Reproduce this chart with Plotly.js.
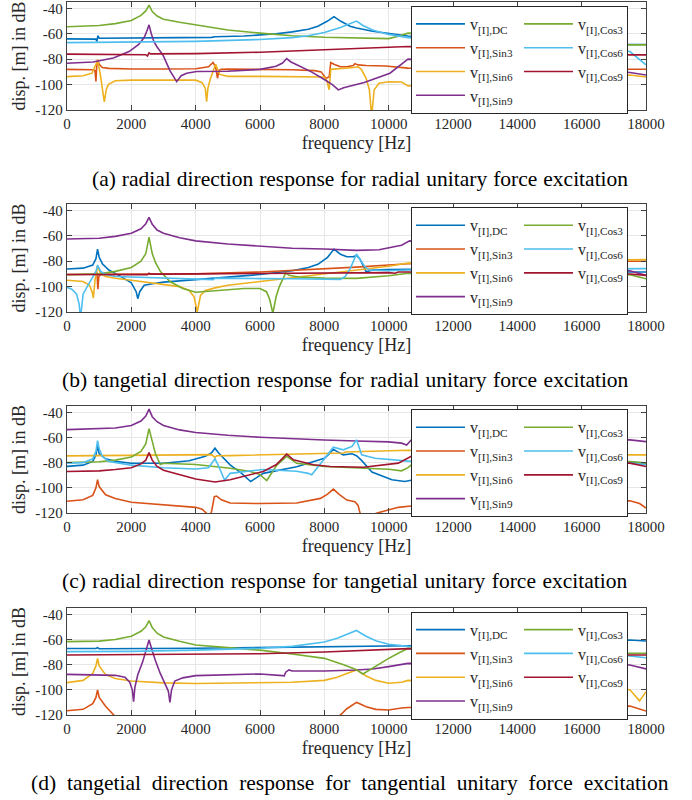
<!DOCTYPE html>
<html>
<head>
<meta charset="utf-8">
<script src="https://cdn.plot.ly/plotly-3.0.1.min.js"></script>
<style>
html,body{margin:0;padding:0;background:#fff}
#chart{width:692px;height:800px}
text[data-unformatted^="(a)"]{word-spacing:0.6px}
text[data-unformatted^="(b)"]{word-spacing:1.1px}
text[data-unformatted^="(c)"]{word-spacing:1.1px}
text[data-unformatted^="(d)"]{word-spacing:5.5px}
</style>
</head>
<body>
<div id="chart"></div>
<script>
// ---------- series meta ----------
const seriesKeys = ['DC', 'Sin3', 'Sin6', 'Sin9', 'Cos3', 'Cos6', 'Cos9'];
const seriesLabels = ['v<sub>[I],DC</sub>', 'v<sub>[I],Sin3</sub>', 'v<sub>[I],Sin6</sub>', 'v<sub>[I],Sin9</sub>',
                      'v<sub>[I],Cos3</sub>', 'v<sub>[I],Cos6</sub>', 'v<sub>[I],Cos9</sub>'];
const seriesColors = ['#0072BD', '#D95319', '#EDB120', '#7E2F8E', '#77AC30', '#4DBEEE', '#A2142F'];
const seriesGroup = [1, 1, 1, 1, 2, 2, 2];
const captions = [
  '(a) radial direction response for radial unitary force excitation',
  '(b) tangetial direction response for radial unitary force excitation',
  '(c) radial direction response for tangetial unitary force excitation',
  '(d) tangetial direction response for tangential unitary force excitation'
];
const xTickVals = [0, 2000, 4000, 6000, 8000, 10000, 12000, 14000, 16000, 18000];
const xTickText = ['0', '2000', '4000', '6000', '8000', '10000', '12000', '14000', '16000', '18000'];
const yTickVals = [-120, -100, -80, -60, -40];
const yTickText = ['-120', '-100', '-80', '-60', '-40'];

// ---------- (a) radial response, radial excitation ----------
const aDC_f = [0, 850, 900, 930, 960, 1000, 1500, 2500, 3500, 4500, 4600, 5500, 6000, 6500, 7000, 7500, 7800, 8100, 8300, 8500, 8800, 9000, 9500, 10000, 10600, 17500, 18000];
const aDC_v = [-64, -64, -64.2, -66, -61.5, -63.5, -63.5, -63.3, -63, -62.8, -62.3, -61.8, -61, -60, -58.5, -56.5, -54, -50, -46.5, -50, -54, -55.5, -58, -60, -61.8, -68.5, -68.5];
const aSin3_f = [0, 800, 870, 900, 920, 950, 1000, 1100, 1300, 2000, 3000, 4000, 4400, 4540, 4620, 4680, 4720, 4800, 5000, 6000, 7000, 7700, 7900, 8050, 8150, 8200, 8300, 8500, 8700, 8900, 8950, 9050, 9300, 9900, 10600, 17500, 18000];
const aSin3_v = [-88, -88.3, -89, -97.5, -87, -80.5, -84, -86.5, -87.2, -87.7, -87.7, -87.5, -86, -82.6, -86, -95, -89, -88, -87.8, -88, -88.3, -89, -90, -95, -94, -82.6, -84, -86, -86, -85, -83.5, -84.5, -85, -85.4, -87, -87.9, -87.9];
const aSin6_f = [0, 500, 780, 880, 950, 1030, 1110, 1160, 1220, 1290, 1500, 2000, 3000, 4000, 4200, 4300, 4340, 4380, 4450, 4550, 4620, 4750, 5000, 6000, 7000, 8000, 8080, 8150, 8200, 8300, 8600, 8900, 9050, 9150, 9300, 9400, 9470, 9550, 9700, 10000, 10400, 10600, 17500, 18000];
const aSin6_v = [-93.7, -93, -91, -85, -81, -91, -104.5, -113.5, -104, -99.8, -97, -96.5, -96.5, -96.5, -98.5, -103, -113.5, -103, -96, -88, -84, -92, -93.5, -93.5, -93.5, -94, -97, -104, -88, -87.8, -87.5, -86.5, -86, -88, -95, -104, -125, -104, -99, -97.7, -98, -101, -92.4, -94];
const aSin9_f = [0, 810, 1440, 1930, 2220, 2400, 2480, 2550, 2620, 2700, 2790, 2990, 3200, 3410, 3550, 3720, 4030, 5000, 6000, 6500, 6700, 6830, 6950, 7200, 7600, 8000, 8250, 8435, 8600, 9240, 10040, 10500, 10600, 17500, 18000];
const aSin9_v = [-83.2, -82.2, -79, -74, -68.6, -63, -58, -53, -60, -66, -70, -77, -89, -97.7, -93, -91, -89.7, -89.5, -88, -85.5, -83, -79.5, -82, -85, -90, -96, -100, -104.2, -102.5, -98.3, -91, -82, -80, -90.5, -92.4];
const aCos3_f = [0, 1000, 1500, 2000, 2300, 2450, 2550, 2650, 2800, 3000, 3500, 4000, 5000, 6000, 7000, 8000, 9000, 10000, 10300, 10600, 17500, 18000];
const aCos3_v = [-54.5, -53.5, -52, -49.5, -45.5, -42, -37.5, -42.5, -46, -48.5, -51, -53, -57, -59.5, -61.5, -62.7, -63.5, -63.8, -62, -59.5, -68.7, -68.7];
const aCos6_f = [0, 2000, 4000, 6000, 7000, 7500, 8000, 8500, 8800, 9000, 9200, 9500, 10000, 10600, 17500, 18000];
const aCos6_v = [-67, -66.8, -66, -64.5, -63, -61.5, -59, -55, -52, -50, -53.5, -57, -60.5, -63, -74, -84.5];
const aCos9_f = [0, 2000, 2450, 2500, 2550, 2600, 4000, 6000, 8000, 10000, 10600, 17500, 18000];
const aCos9_v = [-76, -76, -76.5, -77.5, -75, -75.8, -75.6, -74.5, -72.5, -70.8, -70, -76.6, -76.6];

// ---------- (b) tangential response, radial excitation ----------
const bDC_f = [0, 500, 800, 900, 950, 1000, 1100, 1300, 1600, 2000, 2150, 2200, 2260, 2400, 2700, 3000, 4000, 5000, 6000, 7000, 7500, 7800, 8100, 8300, 8500, 8700, 8900, 9000, 9100, 9300, 9500, 10000, 10600, 17500, 18000];
const bDC_v = [-86.2, -85.5, -83, -78, -70.5, -77, -82, -87, -91, -97, -104, -109.5, -104, -99, -97.5, -96.5, -94.5, -92.5, -90.5, -87.5, -85, -82.5, -77, -70.5, -74.5, -76.5, -76.5, -75.5, -78, -88.3, -87, -86.5, -86.3, -88.5, -88.5];
const bSin3_f = [0, 800, 930, 960, 990, 1050, 1200, 2000, 4000, 6000, 8000, 9000, 10000, 10600, 17500, 18000];
const bSin3_v = [-90.5, -90.3, -89, -102, -92, -90.5, -90.3, -90.2, -90, -88.5, -86.2, -84.7, -83, -82, -80.1, -80.1];
const bSin6_f = [0, 500, 700, 780, 820, 870, 950, 1050, 1200, 1500, 2000, 3000, 3500, 3800, 3950, 4050, 4150, 4300, 4600, 5000, 6000, 7000, 8000, 9000, 10000, 10600, 17500, 18000];
const bSin6_v = [-95, -96, -99, -104, -109, -95, -84, -90, -92, -93.5, -95, -98, -100, -103, -108, -120, -107, -103, -101, -99, -96, -93, -90.5, -87, -84, -81.5, -78.8, -78.8];
const bSin9_f = [0, 1000, 1500, 2000, 2300, 2450, 2550, 2650, 2800, 3000, 3500, 4000, 5000, 6000, 7000, 8000, 9000, 9700, 10000, 10400, 10650, 17500, 18000];
const bSin9_v = [-62.6, -62, -60.5, -58, -54.5, -50.5, -45.5, -51, -55.5, -58, -61.5, -64, -66.5, -68.3, -69.8, -70.4, -71.5, -71, -69.7, -67.5, -64, -87.5, -91.2];
const bCos3_f = [0, 1000, 1500, 2000, 2300, 2450, 2550, 2650, 2750, 2900, 3200, 3600, 4000, 4500, 5000, 5500, 6000, 6200, 6300, 6400, 6500, 6600, 6750, 6800, 6900, 7200, 8000, 9000, 10000, 10600, 17500, 18000];
const bCos3_v = [-90.7, -90, -88, -85, -80, -74, -61, -74, -81, -88, -96, -101.5, -104.5, -103.5, -102.5, -101.5, -101.5, -104, -110, -121, -108, -100, -92, -89.3, -91, -92.5, -93.3, -93.5, -91.5, -89.5, -90.6, -93.8];
const bCos6_f = [0, 150, 300, 380, 420, 500, 650, 800, 900, 950, 1050, 1200, 1500, 2000, 3000, 4000, 4550, 4600, 5000, 6000, 7000, 8000, 8500, 8650, 8800, 9000, 9100, 9250, 9400, 9700, 10000, 10600, 17500, 18000];
const bCos6_v = [-100.6, -102, -106, -114, -125, -106, -99, -93, -88, -83, -88, -90.5, -92, -92.5, -93.3, -94, -94.5, -93.3, -93.5, -93.7, -93.8, -94, -94.3, -92, -86, -74.4, -78, -84, -87, -87.5, -87.5, -87, -85.9, -85.9];
const bCos9_f = [0, 2000, 2500, 2550, 2600, 4000, 6000, 8000, 10000, 10200, 10300, 10600, 17500, 18000];
const bCos9_v = [-90.5, -90.3, -90.6, -89.5, -90.2, -90, -89.5, -89.2, -89, -89.5, -88.5, -88.5, -90.1, -91.2];

// ---------- (c) radial response, tangential excitation ----------
const cDC_f = [0, 500, 800, 900, 950, 1000, 1200, 1500, 2000, 3000, 3800, 4300, 4500, 4600, 4700, 5070, 5400, 5710, 5800, 6100, 7140, 8000, 8150, 8280, 8450, 8590, 8860, 9000, 9150, 9480, 10100, 10500, 10700, 17500, 18000];
const cDC_v = [-83, -82, -79, -74, -66, -73, -77, -79, -80.5, -80.5, -78.5, -75, -72, -68.5, -72, -81.7, -88, -95, -93.5, -88.5, -83.2, -76.6, -73, -69.3, -72, -73.8, -73, -74.5, -78, -87.5, -93.6, -95, -94, -79.6, -80.4];
const cSin3_f = [0, 500, 800, 900, 950, 1000, 1200, 1500, 2000, 3000, 4000, 4200, 4350, 4420, 4500, 4580, 4650, 4800, 5070, 6000, 7140, 7880, 8100, 8280, 8450, 8700, 8950, 9050, 9160, 9640, 10300, 10700, 17500, 17800, 18000];
const cSin3_v = [-110.7, -109.5, -106, -100, -93.5, -99, -105.5, -108.5, -111.5, -113.5, -115.5, -117, -120.5, -125, -118, -107, -106.5, -109.5, -112, -112.5, -112, -108.4, -105, -101, -105, -109.7, -111, -114, -125, -120, -115.5, -114.4, -110.3, -112.5, -116];
const cSin6_f = [0, 2000, 4000, 4500, 4600, 4650, 5070, 6000, 8000, 8600, 8650, 10000, 10600, 17500, 18000];
const cSin6_v = [-74.6, -74.3, -73.8, -73.6, -76, -74.5, -74.4, -74, -72.8, -72.4, -71.5, -70.8, -70.2, -73.8, -73.8];
const cSin9_f = [0, 1000, 1500, 2000, 2300, 2450, 2550, 2650, 2800, 3000, 3500, 4000, 5000, 6000, 7000, 8000, 9000, 10000, 10400, 10560, 10700, 17500, 18000];
const cSin9_v = [-53.8, -53.3, -52.5, -50.5, -47, -43, -37.5, -43.5, -47.5, -50.5, -54, -56, -58.3, -59.8, -61, -62, -62.8, -63.5, -64.5, -66, -62, -61.9, -63.3];
const cCos3_f = [0, 1000, 1500, 2000, 2300, 2450, 2550, 2650, 2750, 2900, 3000, 4000, 5070, 5700, 6000, 6210, 6530, 6830, 7140, 8000, 9000, 10000, 10400, 10600, 10700, 17500, 18000];
const cCos3_v = [-80, -79.3, -78, -75.5, -71, -65, -53, -64, -73, -81.5, -80.5, -81.5, -84.4, -87, -89.5, -94.2, -81.7, -75, -80.5, -83, -84, -85.3, -86.5, -84, -82, -79.1, -80.4];
const cCos6_f = [0, 500, 800, 900, 950, 1000, 1100, 1300, 2000, 3000, 4000, 4400, 4600, 4700, 4900, 5070, 6100, 7140, 7500, 7610, 7880, 8280, 8590, 8860, 9000, 9160, 9580, 10300, 10700, 17500, 18000];
const cCos6_v = [-80.5, -80, -77, -71, -62.5, -69, -75, -79, -82, -84, -85, -84, -77, -82, -94, -88.5, -85.4, -86.8, -88.5, -89.7, -80.9, -67.7, -69.8, -67.1, -61.9, -73.8, -76.5, -78.4, -79, -80.4, -81.7];
const cCos9_f = [0, 1000, 1500, 2000, 2300, 2450, 2550, 2650, 2800, 3000, 4000, 4600, 5070, 6100, 6500, 6830, 7040, 7660, 8180, 9220, 10300, 10700, 17500, 18000];
const cCos9_v = [-87, -86.5, -85.5, -84, -81, -78, -72, -78, -83, -86, -93, -95.4, -93.6, -87, -81.7, -73.3, -77.8, -81.7, -83, -83.6, -80.4, -75, -80.4, -83.1];

// ---------- (d) tangential response, tangential excitation ----------
const dDC_f = [0, 900, 950, 1000, 4000, 8000, 10000, 10600, 17500, 18000];
const dDC_v = [-67.2, -67.2, -66.5, -67.4, -67, -66, -65.3, -65, -60.4, -61.2];
const dSin3_f = [0, 500, 800, 900, 950, 1000, 1200, 1400, 1600, 8300, 8500, 8700, 8900, 9000, 9100, 9300, 9600, 10000, 10400, 10600, 17500, 17800, 18000];
const dSin3_v = [-116.6, -115.5, -111, -106, -100, -106, -113, -118, -124, -124, -120, -115, -111.5, -110, -111, -113.5, -115.5, -116, -114.5, -114, -112.8, -115, -116.8];
const dSin6_f = [0, 500, 800, 900, 950, 1000, 1200, 1500, 2000, 3000, 4000, 6000, 7000, 8000, 8400, 8700, 8900, 9000, 9100, 9300, 9600, 10000, 10400, 10600, 17500, 17800, 18000];
const dSin6_v = [-94.3, -92.5, -87, -81, -75, -81, -88, -91, -93, -94.5, -95, -94.5, -94, -92.5, -90, -87, -85, -84.2, -86, -89, -92.5, -94.8, -94, -92.5, -100, -108.8, -101.5];
const dSin9_f = [0, 1000, 1500, 1800, 1950, 2030, 2070, 2110, 2200, 2350, 2450, 2550, 2650, 2750, 2900, 3050, 3150, 3200, 3250, 3350, 3600, 4000, 6000, 6700, 6750, 6800, 6900, 7000, 8000, 9000, 9500, 10000, 10600, 17500, 18000];
const dSin9_v = [-87.7, -88, -88.5, -90, -94, -100, -109.4, -98, -88, -78, -70, -60.5, -69, -77, -87, -95, -101, -110, -100, -93, -90.5, -88.7, -87.4, -88.7, -89, -86, -84.2, -85, -85, -84.2, -83.5, -81.6, -79, -80.3, -83.4];
const dCos3_f = [0, 1000, 1500, 2000, 2300, 2450, 2550, 2650, 2800, 3000, 3500, 4000, 5000, 6000, 7000, 8000, 8600, 9000, 9200, 9640, 10000, 10300, 10600, 17500, 18000];
const dCos3_v = [-61.7, -61.3, -60, -57.5, -53.5, -50, -45, -50.5, -55, -58, -61.5, -64.4, -66.5, -68.5, -71.5, -75, -80, -84, -87.4, -80.3, -75, -71, -67, -71, -71];
const dCos6_f = [0, 2000, 4000, 6000, 7000, 7500, 8000, 8400, 8700, 8900, 9000, 9100, 9300, 9600, 10000, 10600, 17500, 18000];
const dCos6_v = [-69.7, -69.5, -68.5, -67, -65.5, -64, -62, -59, -56, -54, -52.8, -54.5, -57.5, -61, -63.8, -65.5, -73.1, -74.5];
const dCos9_f = [0, 4000, 6000, 8000, 10000, 10600, 17500, 18000];
const dCos9_v = [-72.3, -72, -71.3, -70, -68.3, -67.3, -72.3, -72.3];

const panelFreq = [
  [aDC_f, aSin3_f, aSin6_f, aSin9_f, aCos3_f, aCos6_f, aCos9_f],
  [bDC_f, bSin3_f, bSin6_f, bSin9_f, bCos3_f, bCos6_f, bCos9_f],
  [cDC_f, cSin3_f, cSin6_f, cSin9_f, cCos3_f, cCos6_f, cCos9_f],
  [dDC_f, dSin3_f, dSin6_f, dSin9_f, dCos3_f, dCos6_f, dCos9_f]
];
const panelVals = [
  [aDC_v, aSin3_v, aSin6_v, aSin9_v, aCos3_v, aCos6_v, aCos9_v],
  [bDC_v, bSin3_v, bSin6_v, bSin9_v, bCos3_v, bCos6_v, bCos9_v],
  [cDC_v, cSin3_v, cSin6_v, cSin9_v, cCos3_v, cCos6_v, cCos9_v],
  [dDC_v, dSin3_v, dSin6_v, dSin9_v, dCos3_v, dCos6_v, dCos9_v]
];

// ---------- layout geometry ----------
const FONT = 'Liberation Serif, Times New Roman, serif';
const TXT = '#262626';
const yDomains = [[0.8485, 1.0], [0.5652, 0.7167], [0.2833, 0.4334], [0.0, 0.1501]];
const legendTops = [0.9944, 0.7120, 0.4287, 0.1449];
const captionX = [0.0397, -0.0121, -0.0121, -0.0656];
const captionY = [0.7517, 0.4698, 0.1879, -0.0954];

const traces = [];
const layout = {
  width: 692, height: 800,
  margin: {l: 67, r: 46, t: 2, b: 85},
  paper_bgcolor: '#ffffff', plot_bgcolor: '#ffffff',
  font: {family: FONT, color: TXT},
  showlegend: true,
  annotations: []
};

for (let p = 0; p < 4; p++) {
  const sfx = p === 0 ? '' : String(p + 1);
  const legendId = 'legend' + sfx;
  for (let s = 0; s < seriesKeys.length; s++) {
    traces.push({
      type: 'scatter', mode: 'lines',
      x: panelFreq[p][s], y: panelVals[p][s],
      xaxis: 'x' + sfx, yaxis: 'y' + sfx,
      name: seriesLabels[s],
      legend: legendId,
      legendgroup: 'p' + p + 'g' + seriesGroup[s],
      line: {color: seriesColors[s], width: 1.6},
      hoverinfo: 'skip'
    });
  }
  layout['xaxis' + sfx] = {
    domain: [0, 1], anchor: 'y' + sfx,
    range: [0, 18000], tickvals: xTickVals, ticktext: xTickText,
    ticks: 'inside', ticklen: 5, tickcolor: '#404040', tickwidth: 1,
    showline: true, linecolor: '#404040', linewidth: 1.2, mirror: 'ticks',
    showgrid: true, gridcolor: '#e6e6e6', gridwidth: 1, zeroline: false,
    tickfont: {family: FONT, size: 15, color: TXT},
    title: {text: 'frequency [Hz]', font: {family: FONT, size: 18, color: TXT}, standoff: 5}
  };
  layout['yaxis' + sfx] = {
    domain: yDomains[p], anchor: 'x' + sfx,
    range: [-120, -35], tickvals: yTickVals, ticktext: yTickText,
    ticks: 'inside', ticklen: 5, tickcolor: '#404040', tickwidth: 1,
    showline: true, linecolor: '#404040', linewidth: 1.2, mirror: 'ticks',
    showgrid: true, gridcolor: '#e6e6e6', gridwidth: 1, zeroline: false,
    tickfont: {family: FONT, size: 15, color: TXT},
    title: {text: 'disp. [m] in dB', font: {family: FONT, size: 18, color: TXT}, standoff: 5}
  };
  layout[legendId] = {
    orientation: 'h', traceorder: 'grouped', tracegroupgap: 0,
    x: 0.5941, xanchor: 'left', y: legendTops[p], yanchor: 'top',
    bgcolor: '#ffffff', bordercolor: '#262626', borderwidth: 1,
    font: {family: FONT, size: 16, color: TXT},
    itemwidth: 49, entrywidth: 44, entrywidthmode: 'pixels'
  };
  layout.annotations.push({
    xref: 'paper', yref: 'paper', x: captionX[p], y: captionY[p],
    xanchor: 'left', yanchor: 'middle', showarrow: false,
    text: captions[p], font: {family: FONT, size: 21.5, color: '#000000'}
  });
}

Plotly.newPlot('chart', traces, layout, {staticPlot: true, displayModeBar: false});
</script>
</body>
</html>
